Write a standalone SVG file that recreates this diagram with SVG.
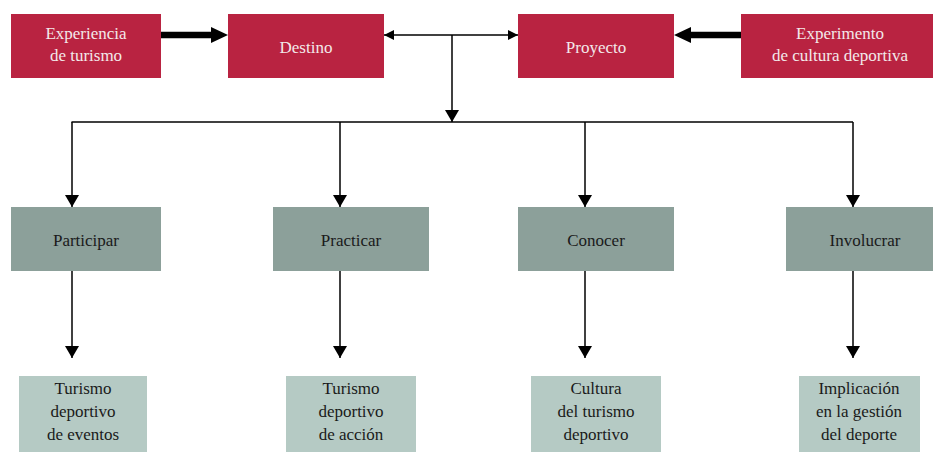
<svg xmlns="http://www.w3.org/2000/svg" width="933" height="452" viewBox="0 0 933 452">
<style>
.r{fill:#B92341}
.g{fill:#8CA09A}
.l{fill:#B5CAC4}
text{font-family:"Liberation Serif","Times New Roman",serif;font-size:17px;text-anchor:middle}
.w{fill:#F3E9EA}
.d{fill:#1a1a1a}
.ln{stroke:#000;stroke-width:1.5;fill:none}
</style>
<defs>
<marker id="a" markerWidth="10" markerHeight="10" refX="10" refY="5" orient="auto" markerUnits="userSpaceOnUse" viewBox="0 0 10 10">
<path d="M0,0 L10,5 L0,10 z" fill="#000"/>
</marker>
<marker id="c" markerWidth="12" markerHeight="14" refX="12" refY="7" orient="auto" markerUnits="userSpaceOnUse" viewBox="0 0 12 14">
<path d="M0,0 L12,7 L0,14 z" fill="#000"/>
</marker>
</defs>
<g id="connectors">
<line x1="161" y1="35" x2="212" y2="35" stroke="#000" stroke-width="6.5"/>
<path d="M211,27 L228,35 L211,43 z" fill="#000"/>
<line x1="741" y1="35" x2="690" y2="35" stroke="#000" stroke-width="6.5"/>
<path d="M691,27 L674,35 L691,43 z" fill="#000"/>
<line class="ln" x1="452" y1="35" x2="384" y2="35" marker-end="url(#a)"/>
<line class="ln" x1="452" y1="35" x2="518" y2="35" marker-end="url(#a)"/>
<line class="ln" x1="452" y1="35" x2="452" y2="122" marker-end="url(#c)"/>
<line class="ln" x1="71.5" y1="122" x2="853" y2="122"/>
<line class="ln" x1="72" y1="122" x2="72" y2="207" marker-end="url(#c)"/>
<line class="ln" x1="340" y1="122" x2="340" y2="207" marker-end="url(#c)"/>
<line class="ln" x1="585" y1="122" x2="585" y2="207" marker-end="url(#c)"/>
<line class="ln" x1="853" y1="122" x2="853" y2="207" marker-end="url(#c)"/>
<line class="ln" x1="72" y1="271" x2="72" y2="358" marker-end="url(#c)"/>
<line class="ln" x1="340" y1="271" x2="340" y2="358" marker-end="url(#c)"/>
<line class="ln" x1="585" y1="271" x2="585" y2="358" marker-end="url(#c)"/>
<line class="ln" x1="853" y1="271" x2="853" y2="358" marker-end="url(#c)"/>
</g>
<g id="experiencia"><rect class="r" x="11" y="14" width="150" height="64"/><text class="w" x="86" y="39">Experiencia</text><text class="w" x="86" y="61">de turismo</text></g>
<g id="destino"><rect class="r" x="228" y="14" width="156" height="64"/><text class="w" x="306" y="53">Destino</text></g>
<g id="proyecto"><rect class="r" x="518" y="14" width="156" height="64"/><text class="w" x="596" y="53">Proyecto</text></g>
<g id="experimento"><rect class="r" x="741" y="14" width="192" height="64"/><text class="w" x="840" y="39">Experimento</text><text class="w" x="840" y="61">de cultura deportiva</text></g>
<g id="participar"><rect class="g" x="11" y="207" width="150" height="64"/><text class="d" x="86" y="246">Participar</text></g>
<g id="practicar"><rect class="g" x="273" y="207" width="156" height="64"/><text class="d" x="351" y="246">Practicar</text></g>
<g id="conocer"><rect class="g" x="518" y="207" width="156" height="64"/><text class="d" x="596" y="246">Conocer</text></g>
<g id="involucrar"><rect class="g" x="786" y="207" width="147" height="64"/><text class="d" x="865" y="246">Involucrar</text></g>
<g id="eventos"><rect class="l" x="19" y="376" width="128" height="76"/><text class="d" x="83" y="394">Turismo</text><text class="d" x="83" y="417">deportivo</text><text class="d" x="83" y="440">de eventos</text></g>
<g id="accion"><rect class="l" x="286" y="376" width="130" height="76"/><text class="d" x="351" y="394">Turismo</text><text class="d" x="351" y="417">deportivo</text><text class="d" x="351" y="440">de acción</text></g>
<g id="cultura"><rect class="l" x="531" y="376" width="130" height="76"/><text class="d" x="596" y="394">Cultura</text><text class="d" x="596" y="417">del turismo</text><text class="d" x="596" y="440">deportivo</text></g>
<g id="implicacion"><rect class="l" x="799" y="376" width="121" height="76"/><text class="d" x="859" y="394">Implicación</text><text class="d" x="859" y="417">en la gestión</text><text class="d" x="859" y="440">del deporte</text></g>
</svg>
